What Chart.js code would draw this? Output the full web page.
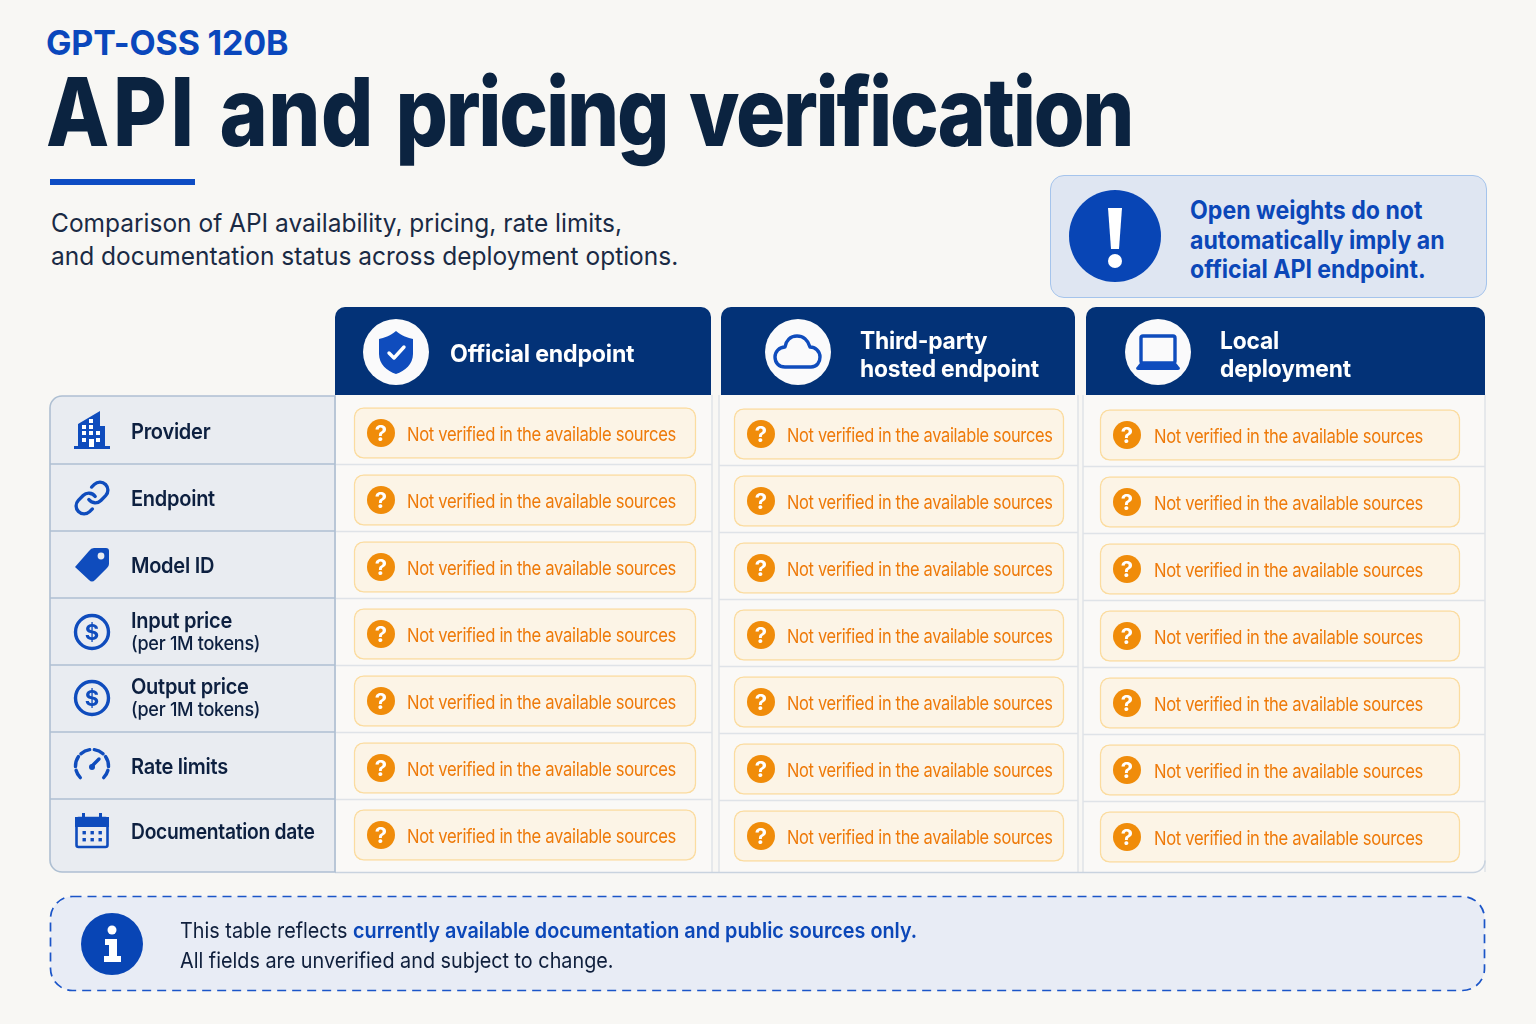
<!DOCTYPE html>
<html>
<head>
<meta charset="utf-8">
<title>API and pricing verification</title>
<script src="https://cdn.jsdelivr.net/npm/chart.js"></script>
<style>
html, body { margin: 0; padding: 0; background: #f8f7f4; }
#page { position: relative; width: 1536px; height: 1024px; overflow: hidden; font-family: Inter, sans-serif; }
#page div { position: absolute; white-space: nowrap; transform-origin: left top; }
canvas { position: absolute; left: 0; top: 0; }
.eyebrow { left: 46px; top: 22px; font-size: 34px; line-height: 42px; font-weight: 700; color: #0a47bc; letter-spacing: -0.2px; }
.title { left: 45.5px; top: 54px; font-size: 95px; line-height: 115px; font-weight: 800; color: #0b2340; letter-spacing: -2.6px; word-spacing: 7px; transform: scaleX(0.865); }
.title .w1 { letter-spacing: 4.4px; }
.title .w2 { letter-spacing: 0.5px; }
.rule { left: 50px; top: 179px; width: 145px; height: 6px; background: #0e4dc4; }
.sub { left: 51px; top: 206px; font-size: 25.5px; line-height: 33px; color: #1a2a44; transform: scaleX(0.96); }
.callout { left: 1050px; top: 175px; width: 435px; height: 121px; background: #dfe6f2; border: 1px solid #a5c4ec; border-radius: 14px; }
.calloutText { left: 1190px; top: 196px; font-size: 25px; line-height: 29.5px; font-weight: 700; color: #0b47b8; transform: scaleX(0.925); }
.noteText { left: 180px; top: 915px; font-size: 22px; line-height: 30px; color: #0f1f3c; transform: scaleX(0.9); }
.noteText b { color: #0b47b8; font-weight: 600; }
svg.badge { position: absolute; }
</style>
</head>
<body>
<div id="page">
  <div class="eyebrow">GPT-OSS 120B</div>
  <div class="title"><span class="w1">API</span> <span class="w2">and</span> pricing verification</div>
  <div class="rule"></div>
  <div class="sub">Comparison of API availability, pricing, rate limits,<br>and documentation status across deployment options.</div>
  <div class="callout"></div>
  <svg class="badge" style="left:1069px;top:190px" width="92" height="92" viewBox="0 0 92 92">
    <circle cx="46" cy="46" r="46" fill="#0845b5"/>
    <path d="M39 18 H53 L50 59 H42 Z" fill="#fff"/>
    <circle cx="46" cy="71" r="7" fill="#fff"/>
  </svg>
  <div class="calloutText">Open weights do not<br>automatically imply an<br>official API endpoint.</div>
  <canvas id="chart" width="1536" height="1024"></canvas>
  <svg class="badge" style="left:49px;top:895px" width="1438" height="98" viewBox="0 0 1438 98">
    <rect x="1.5" y="1.5" width="1434" height="94" rx="22" fill="#e8ecf5" stroke="#1b55c8" stroke-width="1.7" stroke-dasharray="9 6"/>
  </svg>
  <svg class="badge" style="left:81px;top:913px" width="62" height="62" viewBox="0 0 62 62">
    <circle cx="31" cy="31" r="31" fill="#0845b5"/>
    <circle cx="31" cy="17" r="4.5" fill="#fff"/>
    <path d="M24 26 H36 V43 H40 V49 H23 V43 H28 V32 H24 Z" fill="#fff"/>
  </svg>
  <div class="noteText">This table reflects <b>currently available documentation and public sources only.</b><br>All fields are unverified and subject to change.</div>
</div>

<script>
'use strict';

var rowLabels = ['Provider', 'Endpoint', 'Model ID', 'Input price', 'Output price', 'Rate limits', 'Documentation date'];
var rowNotes = ['', '', '', '(per 1M tokens)', '(per 1M tokens)', '', ''];
var rowIcons = ['building', 'link', 'tag', 'dollar', 'dollar', 'gauge', 'calendar'];

var columnNames = ['Official endpoint', 'Third-party hosted endpoint', 'Local deployment'];
var columnLines = [['Official endpoint'], ['Third-party', 'hosted endpoint'], ['Local', 'deployment']];
var columnIcons = ['shield', 'cloud', 'laptop'];

var officialStatus = ['Not verified in the available sources', 'Not verified in the available sources', 'Not verified in the available sources', 'Not verified in the available sources', 'Not verified in the available sources', 'Not verified in the available sources', 'Not verified in the available sources'];
var thirdPartyStatus = ['Not verified in the available sources', 'Not verified in the available sources', 'Not verified in the available sources', 'Not verified in the available sources', 'Not verified in the available sources', 'Not verified in the available sources', 'Not verified in the available sources'];
var localStatus = ['Not verified in the available sources', 'Not verified in the available sources', 'Not verified in the available sources', 'Not verified in the available sources', 'Not verified in the available sources', 'Not verified in the available sources', 'Not verified in the available sources'];
var statusByColumn = [officialStatus, thirdPartyStatus, localStatus];

// layout only, page pixels
var headerBoxes = [[335, 711], [721, 1075], [1086, 1485]];
var panelBoxes = [[335, 712], [719, 1078], [1083, 1485]];
var pillSpans = [[354, 696], [734, 1064], [1100, 1460]];
var columnDrift = [0, 1, 2];
var statusTextX = [53, 53, 54];
var statusSqueeze = [0.873, 0.862, 0.873];
var headerSqueeze = [0.965, 0.95, 0.95];
var rowNudge = [0, 0, 0, 0, -1, 0, -2];
var rowSqueeze = [0.91, 0.91, 0.91, 0.91, 0.91, 0.91, 0.875];
var headerIconX = [396, 798, 1158];
var headerTextX = [450, 860, 1220];
var blue = '#0f4cbd';
var FONT = 'Inter, sans-serif';

// sx squeezes the glyphs sideways, the reference face is narrower than Inter
function text(ctx, str, x, y, font, color, spacing, sx) {
   ctx.save();
   ctx.translate(x, y);
   ctx.scale(sx || 1, 1);
   ctx.font = font;
   ctx.fillStyle = color;
   ctx.letterSpacing = (spacing || 0) + 'px';
   ctx.textAlign = 'left';
   ctx.textBaseline = 'alphabetic';
   ctx.fillText(str, 0, 0);
   ctx.restore();
}

function drawIcon(ctx, name, x, y) {
   ctx.save();
   ctx.translate(x, y);
   ctx.strokeStyle = blue;
   ctx.fillStyle = blue;
   ctx.lineWidth = 3.4;
   ctx.lineJoin = 'round';
   ctx.lineCap = 'round';
   if (name == 'shield') {
      ctx.fill(new Path2D('M0 -21 C6 -16 12 -14 17 -13 V2 C17 12 9 19 0 22 C-9 19 -17 12 -17 2 V-13 C-12 -14 -6 -16 0 -21Z'));
      ctx.strokeStyle = '#fff';
      ctx.stroke(new Path2D('M-7 1 L-2 6 L8 -5'));
   } else if (name == 'cloud') {
      ctx.stroke(new Path2D('M-13 15 H13 C19 15 22 10 22 5 C22 -1 17 -5 12 -5 C10 -12 5 -16 -1 -16 C-8 -16 -12 -11 -13 -5 C-19 -5 -23 0 -23 5 C-23 11 -19 15 -13 15Z'));
   } else if (name == 'laptop') {
      ctx.beginPath();
      ctx.roundRect(-17, -16, 34, 27, 2);
      ctx.stroke();
      ctx.fill(new Path2D('M-18 11 H18 L22 16 Q22 18 20 18 H-20 Q-22 18 -22 16 Z'));
   } else if (name == 'building') {
      ctx.fill(new Path2D('M-14 16 V-7 L8 -20 V-5 H13 V16 Z'));
      ctx.fillRect(-18, 15, 36, 3);
      ctx.fillStyle = '#fff';
      [[-10, -6], [-3, -6], [-10, 0], [-3, 0], [4, 0], [-10, 7], [4, 7], [-3, -12]].forEach(function (w) {
         ctx.fillRect(w[0], w[1], 4, 4);
      });
      ctx.fillRect(-3, 8, 5, 8);
   } else if (name == 'link') {
      ctx.scale(1.6, 1.6);
      ctx.translate(-12, -12);
      ctx.lineWidth = 2.1;
      ctx.stroke(new Path2D('M10 13a5 5 0 0 0 7.54.54l3-3a5 5 0 0 0-7.07-7.07l-1.72 1.71'));
      ctx.stroke(new Path2D('M14 11a5 5 0 0 0-7.54-.54l-3 3a5 5 0 0 0 7.07 7.07l1.71-1.71'));
   } else if (name == 'tag') {
      ctx.fill(new Path2D('M-17 2 L-3 -14 Q-1 -17 2 -17 H14 Q17 -17 17 -14 V-1 Q17 1 15 3 L3 15 Q0 18 -3 15 Z'));
      ctx.fillStyle = '#e9ecf1';
      ctx.beginPath();
      ctx.arc(9, -9, 3.4, 0, Math.PI * 2);
      ctx.fill();
   } else if (name == 'dollar') {
      ctx.beginPath();
      ctx.arc(0, 0, 16.5, 0, Math.PI * 2);
      ctx.stroke();
      ctx.font = '700 22px ' + FONT;
      ctx.textAlign = 'center';
      ctx.textBaseline = 'middle';
      ctx.fillText('$', 0, 1);
   } else if (name == 'gauge') {
      [[135, 165], [178, 215], [228, 262], [278, 312], [325, 362], [375, 405]].forEach(function (a) {
         ctx.beginPath();
         ctx.arc(0, 0, 16.5, a[0] * Math.PI / 180, a[1] * Math.PI / 180);
         ctx.stroke();
      });
      ctx.beginPath();
      ctx.moveTo(0, 0);
      ctx.lineTo(7, -7);
      ctx.stroke();
      ctx.beginPath();
      ctx.arc(0, 1, 3, 0, Math.PI * 2);
      ctx.fill();
   } else if (name == 'calendar') {
      ctx.lineWidth = 2.6;
      ctx.beginPath();
      ctx.roundRect(-15.5, -13, 31, 29, 2);
      ctx.stroke();
      ctx.fillRect(-17, -14, 34, 10);
      ctx.fillRect(-10, -18, 3, 6);
      ctx.fillRect(7, -18, 3, 6);
      for (var r = 0; r < 2; r++) {
         for (var c = 0; c < 3; c++) {
            ctx.fillRect(-9.5 + c * 8, 0 + r * 7, 3.4, 3.4);
         }
      }
   }
   ctx.restore();
}

var tablePlugin = {
   id: 'tablePlugin',
   beforeDatasetsDraw: function (chart) {
      var ctx = chart.ctx;
      var y = chart.scales.y;
      ctx.save();

      // left label panel and cell panels
      ctx.fillStyle = '#e9ecf1';
      ctx.beginPath();
      ctx.roundRect(50, 396, 285, 476, [12, 0, 0, 12]);
      ctx.fill();

      panelBoxes.forEach(function (p, i) {
         ctx.fillStyle = '#faf9f7';
         ctx.fillRect(p[0], 395, p[1] - p[0], 477);
         ctx.strokeStyle = '#dfe3e8';
         ctx.lineWidth = 1.5;
         ctx.beginPath();
         ctx.moveTo(p[0], 395);
         ctx.lineTo(p[0], 872);
         ctx.moveTo(p[1], 395);
         ctx.lineTo(p[1], 872);
         ctx.stroke();
         rowLabels.forEach(function (r, j) {
            if (j == rowLabels.length - 1) return;
            var ly = y.getPixelForValue(j) + 31.5 + columnDrift[i];
            ctx.beginPath();
            ctx.moveTo(p[0], ly);
            ctx.lineTo(p[1], ly);
            ctx.stroke();
         });
      });

      // bottom edge runs under all columns
      ctx.strokeStyle = '#c9d3df';
      ctx.lineWidth = 1.5;
      ctx.beginPath();
      ctx.moveTo(335, 872.5);
      ctx.lineTo(1473, 872.5);
      ctx.arcTo(1485, 872.5, 1485, 860, 12);
      ctx.stroke();

      // label panel outline and row lines
      ctx.strokeStyle = '#aebfd2';
      ctx.lineWidth = 1.6;
      ctx.beginPath();
      ctx.roundRect(50, 396, 285, 476, [12, 0, 0, 12]);
      ctx.stroke();
      rowLabels.forEach(function (r, j) {
         if (j == rowLabels.length - 1) return;
         var ly = y.getPixelForValue(j) + 31;
         ctx.beginPath();
         ctx.moveTo(50, ly);
         ctx.lineTo(335, ly);
         ctx.stroke();
      });

      // column headers
      headerBoxes.forEach(function (h, i) {
         ctx.fillStyle = '#033277';
         ctx.beginPath();
         ctx.roundRect(h[0], 307, h[1] - h[0], 88, [10, 10, 0, 0]);
         ctx.fill();
         ctx.fillStyle = '#fafafb';
         ctx.beginPath();
         ctx.arc(headerIconX[i], 352, 33, 0, Math.PI * 2);
         ctx.fill();
         drawIcon(ctx, columnIcons[i], headerIconX[i], 352);
         var lines = columnLines[i];
         lines.forEach(function (l, k) {
            var by = lines.length == 1 ? 361.5 : 349 + k * 27.5;
            text(ctx, l, headerTextX[i], by, '700 24px ' + FONT, '#ffffff', -0.2, headerSqueeze[i]);
         });
      });

      // row labels
      rowLabels.forEach(function (r, j) {
         var cy = y.getPixelForValue(j) + rowNudge[j];
         drawIcon(ctx, rowIcons[j], 92, cy - 2);
         if (rowNotes[j]) {
            text(ctx, r, 131, cy - 6, '600 22px ' + FONT, '#0d2040', -0.3, rowSqueeze[j]);
            text(ctx, rowNotes[j], 131, cy + 15.5, '500 19px ' + FONT, '#0d2040', -0.3, 0.95);
         } else {
            text(ctx, r, 131, cy + 6, '600 22px ' + FONT, '#0d2040', -0.3, rowSqueeze[j]);
         }
      });
      ctx.restore();
   },
   beforeDatasetDraw: function (chart, args) {
      chart.ctx.save();
      chart.ctx.translate(0, columnDrift[args.index]);
   },
   afterDatasetDraw: function (chart, args) {
      var ctx = chart.ctx;
      var i = args.index;
      args.meta.data.forEach(function (bar, j) {
         var left = Math.min(bar.x, bar.base);
         ctx.fillStyle = '#f08c0a';
         ctx.beginPath();
         ctx.arc(left + 27, bar.y, 14, 0, Math.PI * 2);
         ctx.fill();
         ctx.font = '700 22px ' + FONT;
         ctx.fillStyle = '#ffffff';
         ctx.textAlign = 'center';
         ctx.textBaseline = 'alphabetic';
         ctx.fillText('?', left + 27, bar.y + 8);
         text(ctx, statusByColumn[i][j], left + statusTextX[i], bar.y + 8, '400 19px ' + FONT, '#ee7a0a', -0.35, statusSqueeze[i]);
      });
      ctx.restore();
   }
};

var datasets = columnNames.map(function (name, i) {
   return {
      label: name,
      data: rowLabels.map(function () { return pillSpans[i]; }),
      backgroundColor: '#fcf4e6',
      borderColor: '#fbdca0',
      borderWidth: 1.5,
      borderSkipped: false,
      borderRadius: 10,
      barThickness: 51,
      grouped: false
   };
});

new Chart(document.getElementById('chart'), {
   type: 'bar',
   data: { labels: rowLabels, datasets: datasets },
   options: {
      indexAxis: 'y',
      responsive: false,
      animation: false,
      events: [],
      layout: { padding: { left: 0, right: 0, top: 399.5, bottom: 155.5 } },
      plugins: { legend: { display: false }, tooltip: { enabled: false } },
      scales: {
         x: { type: 'linear', min: 0, max: 1536, display: false },
         y: { type: 'category', display: false }
      }
   },
   plugins: [tablePlugin]
});
</script>
</body>
</html>
